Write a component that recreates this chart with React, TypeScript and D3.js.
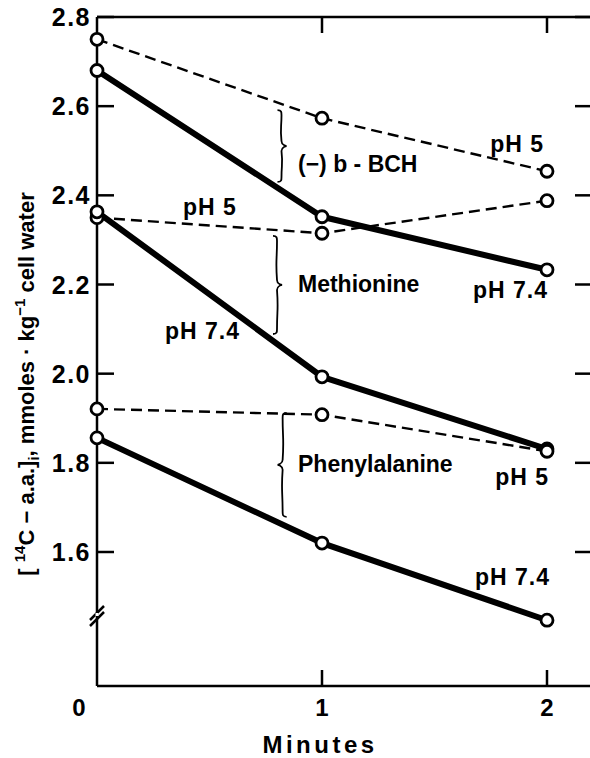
import React from "react";
import * as d3 from "d3";

const minutes = [0, 1, 2];
const bchPH5 = [2.75, 2.573, 2.454];
const bchPH74 = [2.68, 2.352, 2.233];
const metPH5 = [2.35, 2.315, 2.388];
const metPH74 = [2.363, 1.993, 1.831];
const phePH5 = [1.921, 1.908, 1.826];
const phePH74 = [1.856, 1.62, 1.447];
const yTicks = [2.8, 2.6, 2.4, 2.2, 2.0, 1.8, 1.6];
const yTickLabels = ["2.8", "2.6", "2.4", "2.2", "2.0", "1.8", "1.6"];
const xTicks = [0, 1, 2];
const xTickLabels = ["0", "1", "2"];

const series = [
  { name: "BCH pH 5", values: bchPH5, dashed: true },
  { name: "BCH pH 7.4", values: bchPH74, dashed: false },
  { name: "Methionine pH 5", values: metPH5, dashed: true },
  { name: "Methionine pH 7.4", values: metPH74, dashed: false },
  { name: "Phenylalanine pH 5", values: phePH5, dashed: true },
  { name: "Phenylalanine pH 7.4", values: phePH74, dashed: false },
];

// braces: minute position, top value, bottom value, direction
const braceMinute = [0.82, 0.8, 0.825];
const braceTop = [2.591, 2.309, 1.912];
const braceBottom = [2.43, 2.089, 1.679];
const braceDir = [1, 1, -1];

const W = 590;
const H = 758;
const FONT = "'Liberation Sans', Arial, sans-serif";

export default function App() {
  const x = d3.scaleLinear().domain([0, 2]).range([97, 547]);
  const y = d3.scaleLinear().domain([1.6, 2.8]).range([552, 17]);
  const axisLeft = 97;
  const axisTop = 17;
  const axisBottom = 686;
  const axisRight = 592;

  const line = d3
    .line<[number, number]>()
    .x((d) => x(d[0]))
    .y((d) => y(d[1]));

  const bracePath = (cx: number, y1: number, y2: number, dir: number) => {
    const ym = (y1 + y2) / 2;
    const h = 5;
    const b = 5 * dir;
    return [
      `M${cx - 4 * dir},${y1}`,
      `C${cx},${y1} ${cx},${y1 + 2} ${cx},${y1 + h}`,
      `C${cx},${(y1 + ym) / 2} ${cx - 1.5 * dir},${(y1 + ym) / 2} ${cx},${ym - h}`,
      `C${cx},${ym - 1} ${cx + b},${ym} ${cx + b},${ym}`,
      `C${cx + b},${ym} ${cx},${ym + 1} ${cx},${ym + h}`,
      `C${cx + 1.5 * dir},${(ym + y2) / 2} ${cx},${(ym + y2) / 2} ${cx},${y2 - h}`,
      `C${cx},${y2 - 2} ${cx},${y2} ${cx - 4 * dir},${y2}`,
    ].join(" ");
  };

  const labelStyle = { fontFamily: FONT, fontWeight: 700, fill: "#000" } as const;

  return (
    <svg
      width={W}
      height={H}
      viewBox={`0 0 ${W} ${H}`}
      style={{ position: "absolute", left: 0, top: 0, background: "#fff" }}
    >
      <rect x={0} y={0} width={W} height={H} fill="#fff" />
      {/* frame */}
      <g stroke="#000" strokeWidth={2.5} fill="none">
        <line x1={axisLeft} y1={axisTop} x2={axisLeft} y2={axisBottom} />
        <line x1={axisLeft} y1={axisTop} x2={axisRight} y2={axisTop} />
        <line x1={axisLeft} y1={axisBottom} x2={axisRight} y2={axisBottom} />
        {/* axis break */}
        <line x1={axisLeft - 7} y1={620} x2={axisLeft + 7} y2={606} />
        <line x1={axisLeft - 7} y1={626} x2={axisLeft + 7} y2={612} />
      </g>
      <g stroke="#fff" strokeWidth={3}>
        <line x1={axisLeft} y1={613} x2={axisLeft} y2={616} />
      </g>
      {/* ticks */}
      <g stroke="#000" strokeWidth={2.5}>
        {yTicks.map((t) => (
          <React.Fragment key={t}>
            <line x1={axisLeft} y1={y(t)} x2={axisLeft + 17} y2={y(t)} />
            <line x1={575} y1={y(t)} x2={axisRight} y2={y(t)} />
          </React.Fragment>
        ))}
        {xTicks.slice(1).map((t) => (
          <React.Fragment key={t}>
            <line x1={x(t)} y1={axisBottom} x2={x(t)} y2={axisBottom - 16} />
            <line x1={x(t)} y1={axisTop} x2={x(t)} y2={axisTop + 16} />
          </React.Fragment>
        ))}
      </g>
      {/* y tick labels */}
      {yTicks.map((t, i) => (
        <text
          key={t}
          x={91}
          y={y(t) + 9}
          textAnchor="end"
          fontSize={25}
          letterSpacing={1.5}
          style={labelStyle}
        >
          {yTickLabels[i]}
        </text>
      ))}
      {/* x tick labels */}
      {xTicks.map((t, i) => (
        <text
          key={t}
          x={t === 0 ? 79 : x(t)}
          y={716}
          textAnchor="middle"
          fontSize={24}
          style={labelStyle}
        >
          {xTickLabels[i]}
        </text>
      ))}
      <text
        x={320}
        y={753}
        textAnchor="middle"
        fontSize={24}
        letterSpacing={3.5}
        style={labelStyle}
      >
        Minutes
      </text>
      {/* y axis label */}
      <text
        transform="translate(34,384) rotate(-90)"
        textAnchor="middle"
        fontSize={22}
        style={labelStyle}
      >
        <tspan>[ </tspan>
        <tspan fontSize={15} dy={-9}>14</tspan>
        <tspan dy={9}>C − a.a.]</tspan>
        <tspan fontSize={15} dy={5}>i</tspan>
        <tspan dy={-5}>, mmoles · kg</tspan>
        <tspan fontSize={15} dy={-9}>−1</tspan>
        <tspan dy={9}> cell water</tspan>
      </text>
      {/* series lines */}
      {series.map((s) => {
        const pts = minutes.map((m, i) => [m, s.values[i]] as [number, number]);
        return (
          <path
            key={s.name}
            d={line(pts) || ""}
            fill="none"
            stroke="#000"
            strokeWidth={s.dashed ? 2.4 : 6}
            strokeDasharray={s.dashed ? "11 6" : undefined}
            strokeLinejoin="round"
          />
        );
      })}
      {/* markers */}
      {series.map((s) =>
        minutes.map((m, i) => (
          <circle
            key={s.name + i}
            cx={x(m)}
            cy={y(s.values[i])}
            r={6}
            fill="#fff"
            stroke="#000"
            strokeWidth={2.8}
          />
        ))
      )}
      {/* braces */}
      {braceMinute.map((m, i) => (
        <path
          key={"brace" + i}
          d={bracePath(x(m), y(braceTop[i]), y(braceBottom[i]), braceDir[i])}
          fill="none"
          stroke="#000"
          strokeWidth={1.8}
        />
      ))}
      {/* annotations */}
      <text x={298} y={172} fontSize={23} style={labelStyle}>(−) b - BCH</text>
      <text x={298} y={292} fontSize={23} style={labelStyle}>Methionine</text>
      <text x={298} y={472} fontSize={23} style={labelStyle}>Phenylalanine</text>
      <text x={544} y={152} textAnchor="end" fontSize={23} letterSpacing={1} style={labelStyle}>pH 5</text>
      <text x={183} y={215} fontSize={23} letterSpacing={1} style={labelStyle}>pH 5</text>
      <text x={548} y={298} textAnchor="end" fontSize={23} letterSpacing={1} style={labelStyle}>pH 7.4</text>
      <text x={165} y={339} fontSize={23} letterSpacing={1} style={labelStyle}>pH 7.4</text>
      <text x={549} y={485} textAnchor="end" fontSize={23} letterSpacing={1} style={labelStyle}>pH 5</text>
      <text x={550} y={585} textAnchor="end" fontSize={23} letterSpacing={1} style={labelStyle}>pH 7.4</text>
    </svg>
  );
}
